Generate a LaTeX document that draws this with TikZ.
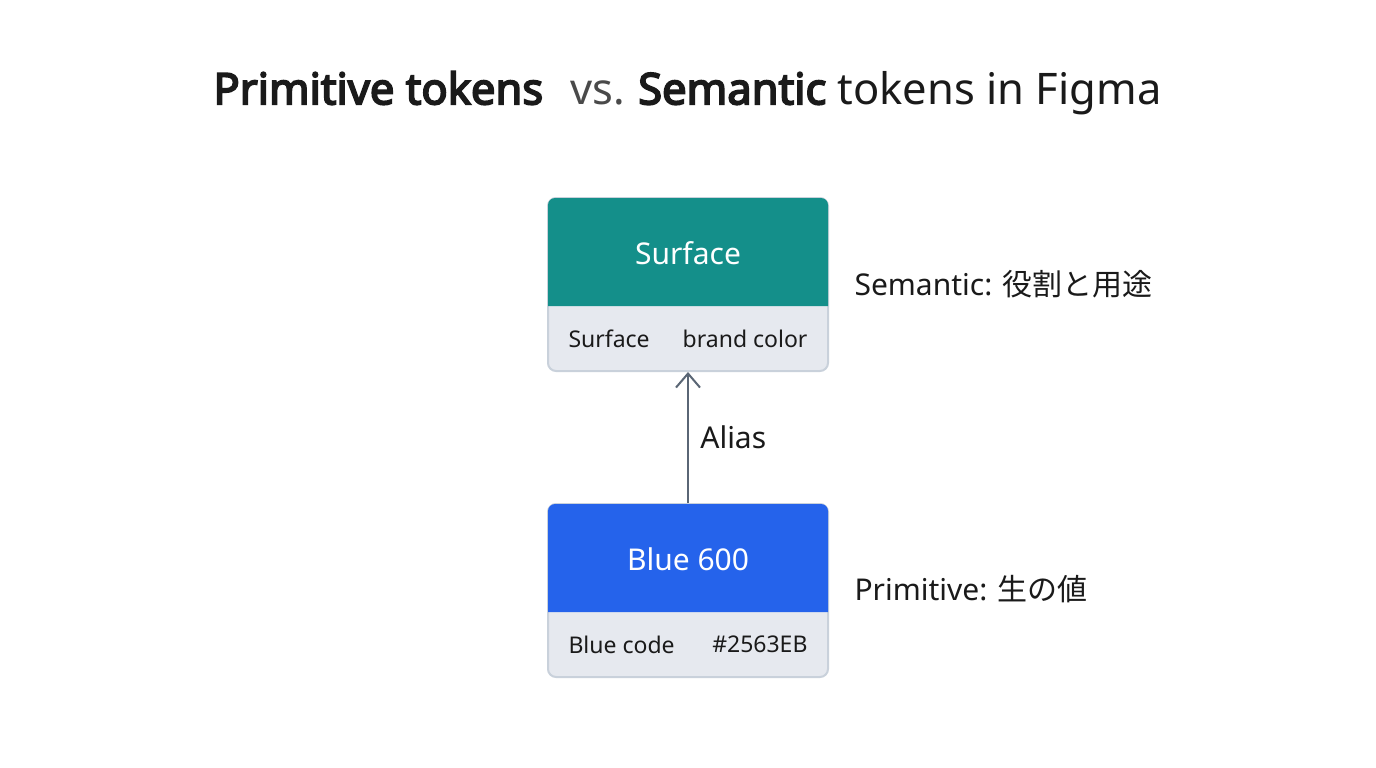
\documentclass[tikz,border=0pt]{standalone}
\usepackage{fontspec}
\setmainfont{Noto Sans}[BoldFont={Noto Sans}, BoldFeatures={FakeBold=4}]
\newfontfamily\jpfont{Noto Sans CJK JP}
\usetikzlibrary{arrows.meta}
\usetikzlibrary{positioning}
\definecolor{TealHead}{HTML}{148F8A}
\definecolor{BlueHead}{HTML}{2563EB}
\definecolor{FootGrey}{HTML}{E6E9EF}
\definecolor{EdgeGrey}{HTML}{C9D1DB}
\definecolor{ArrowGrey}{HTML}{5A6675}
\definecolor{InkDark}{HTML}{1A1A1A}
\definecolor{VsGrey}{HTML}{4A4A4A}

\begin{document}
\begin{tikzpicture}[x=1pt, y=-1pt,
    tokenbox/.style={draw=EdgeGrey, line width=2pt, fill=FootGrey,
      rounded corners=8pt, minimum width=280pt, minimum height=173pt,
      inner sep=0pt},
    headtext/.style={text=white, font=\fontsize{30}{36}\selectfont},
    foottext/.style={text=InkDark, font=\fontsize{23}{28}\selectfont, anchor=west},
    sidetext/.style={text=InkDark, font=\fontsize{30}{36}\selectfont, anchor=west}]
  \useasboundingbox[fill=white] (0,0) rectangle (1376,768);

  % title
  \node[text=InkDark, font=\fontsize{43.5}{52}\selectfont] (title) at (687.5,93)
    {\textbf{Primitive tokens}\hspace{16pt} {\color{VsGrey}vs.}\hspace{-2pt} \textbf{Semantic} tokens in Figma};

  % semantic token
  \node[tokenbox] (surfbox) at (688,284.5) {};
  \fill[TealHead, rounded corners=7pt]
    ([xshift=1pt]surfbox.south west |- 0,306) -- ([shift={(1pt,-1pt)}]surfbox.north west)
    -- ([shift={(-1pt,-1pt)}]surfbox.north east) -- ([xshift=-1pt]surfbox.south east |- 0,306);
  \node[headtext] (surfname) at (688,253) {Surface};
  \node[foottext] (surfkey) at (565,338.5) {Surface};
  \node[foottext, anchor=east] (surfval) at (811,338.5) {brand color};

  % primitive token
  \node[tokenbox] (bluebox) at (688,590.5) {};
  \fill[BlueHead, rounded corners=7pt]
    ([xshift=1pt]bluebox.south west |- 0,612) -- ([shift={(1pt,-1pt)}]bluebox.north west)
    -- ([shift={(-1pt,-1pt)}]bluebox.north east) -- ([xshift=-1pt]bluebox.south east |- 0,612);
  \node[headtext] (bluename) at (688,559) {Blue 600};
  \node[foottext] (bluekey) at (565,644.5) {Blue code};
  \node[foottext, anchor=east] (blueval) at (811,644.5) {\#2563EB};

  % alias connector
  \draw[ArrowGrey, line width=2pt, -{Straight Barb[length=14pt, width=24pt, line width=2pt]}]
    (bluebox.north) -- (surfbox.south)
    node[midway, right=8pt, text=InkDark, font=\fontsize{30}{36}\selectfont] (alias) {Alias};

  % side labels
  \node[sidetext] (semlabel) at (851,284) {Semantic: {\jpfont 役割と用途}};
  \node[sidetext] (primlabel) at (851,589) {Primitive: {\jpfont 生の値}};
\end{tikzpicture}
\end{document}
